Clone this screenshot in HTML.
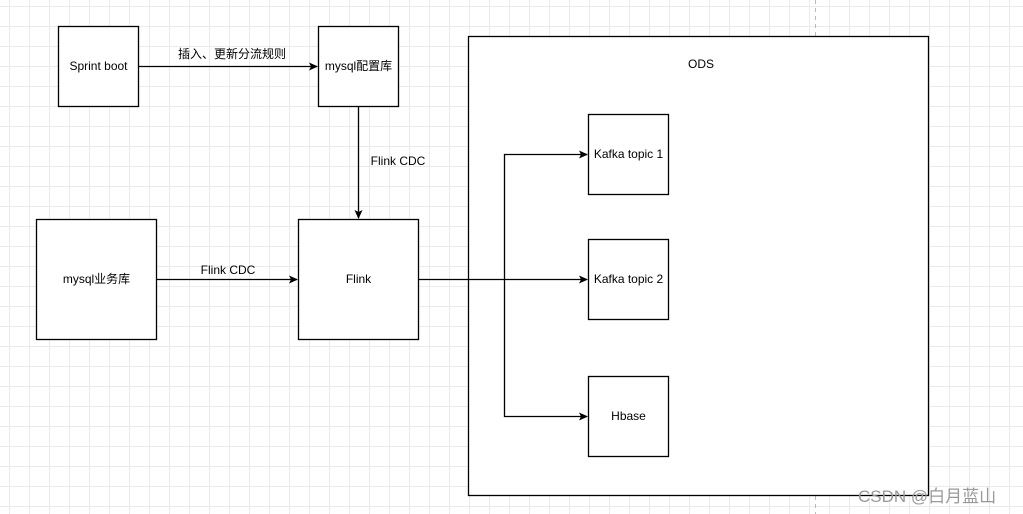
<!DOCTYPE html><html><head><style>body{margin:0;width:1023px;height:514px;overflow:hidden;background:#fff;
background-image:linear-gradient(#ebebeb 1px,transparent 1px),linear-gradient(90deg,#ebebeb 1px,transparent 1px);background-size:20px 20px;background-position:9px 6px;}
text{font-family:"Liberation Sans","Noto Sans CJK SC",sans-serif;font-size:12px;}</style></head><body>
<svg width="1023" height="514" style="position:absolute;left:0;top:0">
<defs><marker id="a" markerWidth="10" markerHeight="10" refX="8" refY="5" orient="auto" markerUnits="userSpaceOnUse"><path d="M0,1 L9,5 L0,9 L2,5z" fill="#000"/></marker></defs>
<line x1="815.5" y1="0" x2="815.5" y2="514" stroke="#bbb" stroke-dasharray="4,4"/>
<g fill="#fff" stroke="#000" stroke-width="1.3">
<rect x="468.5" y="36.5" width="460" height="459"/>
<rect x="58.5" y="26.5" width="80" height="80"/>
<rect x="318.5" y="26.5" width="80" height="80"/>
<rect x="36.5" y="219.5" width="120" height="120"/>
<rect x="298.5" y="219.5" width="120" height="120"/>
<rect x="588.5" y="114.5" width="80" height="80"/>
<rect x="588.5" y="239.5" width="80" height="80"/>
<rect x="588.5" y="376.5" width="80" height="80"/>
</g>
<g stroke="#000" stroke-width="1.3" fill="none">
<line x1="139" y1="66.5" x2="317" y2="66.5" marker-end="url(#a)"/>
<line x1="358.5" y1="107" x2="358.5" y2="218" marker-end="url(#a)"/>
<line x1="157" y1="279.5" x2="297" y2="279.5" marker-end="url(#a)"/>
<line x1="419" y1="279.5" x2="587" y2="279.5" marker-end="url(#a)"/>
<polyline points="504.5,279.5 504.5,154.5 587,154.5" marker-end="url(#a)"/>
<polyline points="504.5,279.5 504.5,416.5 587,416.5" marker-end="url(#a)"/>
</g>
<g text-anchor="middle" fill="#000">
<text x="98.5" y="70">Sprint boot</text>
<text x="358.5" y="70">mysql配置库</text>
<text x="232" y="58">插入、更新分流规则</text>
<text x="398" y="165">Flink CDC</text>
<text x="96.5" y="283">mysql业务库</text>
<text x="228" y="274">Flink CDC</text>
<text x="358.5" y="283">Flink</text>
<text x="701" y="68">ODS</text>
<text x="628.5" y="158">Kafka topic 1</text>
<text x="628.5" y="283">Kafka topic 2</text>
<text x="628.5" y="420">Hbase</text>
</g>
<text x="858" y="502" fill="#999" style="font-size:17px">CSDN @白月蓝山</text>
</svg></body></html>
